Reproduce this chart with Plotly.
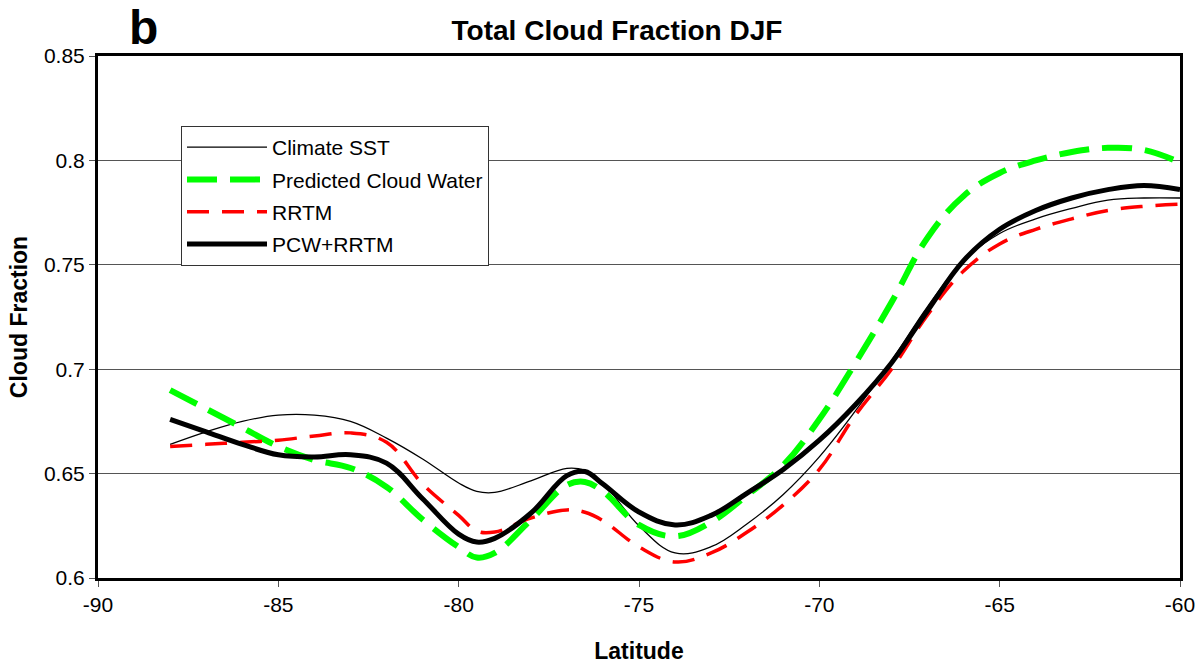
import plotly.graph_objects as go

# Latitude grid (degrees); extra half-degree points around the dips and the bump
lat = [-88, -87, -86, -85, -84, -83, -82, -81, -80, -79.5, -79, -78, -77, -76.5, -76, -75,
       -74, -73, -72, -71, -70, -69, -68, -67, -66, -65, -64, -63, -62, -61, -60]

climate_sst = [0.664, 0.670, 0.675, 0.678, 0.678, 0.675, 0.667, 0.657, 0.6455, 0.6415, 0.641,
               0.6465, 0.6525, 0.6515, 0.6455, 0.625, 0.612, 0.615, 0.626, 0.640, 0.658,
               0.680, 0.704, 0.730, 0.752, 0.765, 0.772, 0.777, 0.781, 0.782, 0.782]

pred_cloud_water = [0.690, 0.681, 0.672, 0.663, 0.6565, 0.6527, 0.6436, 0.628, 0.6148, 0.6098,
                    0.612, 0.6278, 0.6445, 0.646, 0.6415, 0.6254, 0.620, 0.6268, 0.6397,
                    0.654, 0.676, 0.703, 0.732, 0.763, 0.783, 0.794, 0.800, 0.804, 0.806,
                    0.805, 0.799]

rrtm = [0.663, 0.664, 0.665, 0.666, 0.668, 0.6695, 0.665, 0.645, 0.630, 0.6225, 0.622,
        0.6287, 0.6326, 0.6315, 0.6275, 0.6149, 0.6077, 0.612, 0.622, 0.635, 0.652,
        0.678, 0.700, 0.726, 0.747, 0.760, 0.767, 0.772, 0.776, 0.778, 0.779]

pcw_rrtm = [0.676, 0.670, 0.664, 0.659, 0.658, 0.659, 0.655, 0.638, 0.621, 0.6172, 0.619,
            0.631, 0.649, 0.651, 0.645, 0.6316, 0.6254, 0.630, 0.6407, 0.652, 0.666,
            0.683, 0.703, 0.728, 0.752, 0.767, 0.776, 0.782, 0.786, 0.788, 0.786]

x_ticks = [-90, -85, -80, -75, -70, -65, -60]
y_ticks = [0.6, 0.65, 0.7, 0.75, 0.8, 0.85]
y_tick_text = ["0.6", "0.65", "0.7", "0.75", "0.8", "0.85"]

FONT = "Liberation Sans, Arial, sans-serif"
SMOOTH = 1.1

fig = go.Figure()
fig.add_trace(go.Scatter(x=lat, y=climate_sst, name="Climate SST", mode="lines",
                         legendgroup="a",
                         line=dict(color="black", width=1.3, shape="spline", smoothing=SMOOTH)))
fig.add_trace(go.Scatter(x=lat, y=pred_cloud_water, name="Predicted Cloud Water", mode="lines",
                         legendgroup="b",
                         line=dict(color="#00FF00", width=6, dash="30px,13px",
                                   shape="spline", smoothing=SMOOTH)))
fig.add_trace(go.Scatter(x=lat, y=rrtm, name="RRTM", mode="lines",
                         legendgroup="c",
                         line=dict(color="#FF0000", width=3.5, dash="22px,13px",
                                   shape="spline", smoothing=SMOOTH)))
fig.add_trace(go.Scatter(x=lat, y=pcw_rrtm, name="PCW+RRTM", mode="lines",
                         legendgroup="d",
                         line=dict(color="black", width=5, shape="spline", smoothing=SMOOTH)))

fig.update_layout(
    width=1203, height=666,
    margin=dict(l=98, r=23, t=56, b=88),
    paper_bgcolor="white", plot_bgcolor="white",
    font=dict(family=FONT, size=21, color="black"),
    title=dict(text="<b>Total Cloud Fraction DJF</b>", x=617 / 1203, xanchor="center",
               y=1 - 30 / 666, yanchor="middle", font=dict(size=28, family=FONT)),
    showlegend=True,
    legend=dict(x=(181 - 98) / 1082, y=(578 - 126) / 522, xanchor="left", yanchor="top",
                bgcolor="white", bordercolor="#333333", borderwidth=1,
                font=dict(size=21, family=FONT), itemwidth=80, tracegroupgap=2),
    xaxis=dict(range=[-90, -60], tickvals=x_ticks, ticktext=[str(v) for v in x_ticks],
               showgrid=False, zeroline=False, showline=True, linecolor="black", linewidth=3,
               mirror=True, ticks="outside", ticklen=6, tickcolor="#555555", tickwidth=1,
               automargin=False,
               tickfont=dict(size=21), title=dict(text="<b>Latitude</b>", font=dict(size=23),
                                                  standoff=28)),
    yaxis=dict(range=[0.6, 0.85], tickvals=y_ticks, ticktext=y_tick_text,
               showgrid=True, gridcolor="#555555", gridwidth=1, zeroline=False,
               showline=True, linecolor="black", linewidth=3, mirror=True,
               ticks="outside", ticklen=6, tickcolor="#555555", tickwidth=1,
               automargin=False,
               tickfont=dict(size=21), title=dict(text="<b>Cloud Fraction</b>", font=dict(size=23),
                                                  standoff=10)),
)

# panel letter above the plot frame
fig.add_annotation(text="<b>b</b>", x=(143 - 98) / 1082, y=(578 - 28) / 522,
                   xref="paper", yref="paper",
                   xanchor="center", yanchor="middle", showarrow=False,
                   font=dict(size=48, family=FONT, color="black"))

fig.write_html("out.html")
